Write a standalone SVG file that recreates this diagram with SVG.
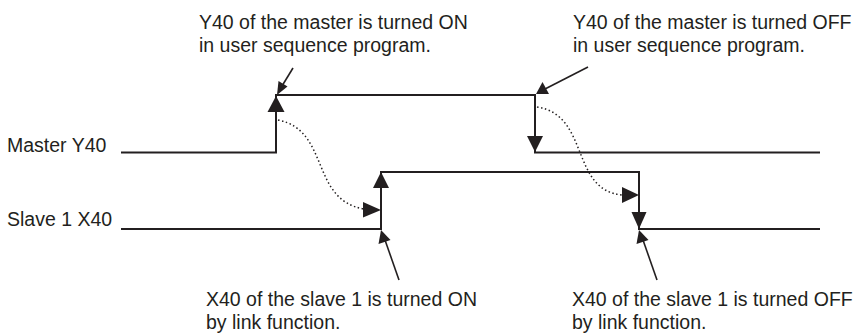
<svg xmlns="http://www.w3.org/2000/svg" width="859" height="334" viewBox="0 0 859 334">
<style>
text{font-family:"Liberation Sans",Arial,sans-serif;font-size:19.5px;fill:#231f20}
.sig{fill:none;stroke:#231f20;stroke-width:2}
.ann{fill:none;stroke:#231f20;stroke-width:1.6}
.dot{fill:none;stroke:#231f20;stroke-width:1.5;stroke-dasharray:1.5 2.5}
.hd{fill:#231f20}
</style>
<rect width="859" height="334" fill="#fff"/>
<g id="label-master"><text x="7" y="152">Master Y40</text></g>
<g id="label-slave"><text x="7" y="226">Slave 1 X40</text></g>
<g id="note-master-on"><text x="199" y="29">Y40 of the master is turned ON</text><text x="199" y="52">in user sequence program.</text></g>
<g id="note-master-off"><text x="573" y="29">Y40 of the master is turned OFF</text><text x="573" y="52">in user sequence program.</text></g>
<g id="note-slave-on"><text x="206" y="306">X40 of the slave 1 is turned ON</text><text x="206" y="329">by link function.</text></g>
<g id="note-slave-off"><text x="572" y="306">X40 of the slave 1 is turned OFF</text><text x="572" y="329">by link function.</text></g>
<g id="signal-master"><polyline class="sig" points="121,152.5 276,152.5 276,95 535,95 535,152.5 820,152.5"/></g>
<g id="signal-slave"><polyline class="sig" points="121,229 381,229 381,172 639,172 639,229 820,229"/></g>
<g id="connectors">
<polygon class="hd" points="276,96 267.5,112 284.5,112"/>
<polygon class="hd" points="535,152 527,136 543,136"/>
<polygon class="hd" points="381,172 373,188 389,188"/>
<polygon class="hd" points="639,229 631.5,212 646.5,212"/>
<path class="dot" d="M278,120 C330,130 310,200 364,209"/>
<polygon class="hd" points="381,210 363,202 363,217.5"/>
<path class="dot" d="M537,107 C590,115 570,190 622,195"/>
<polygon class="hd" points="639,195 622,187 622,203"/>
<line class="ann" x1="293" y1="68" x2="282" y2="86"/>
<polygon class="hd" points="277,95 278.5,81 287.5,86.5"/>
<line class="ann" x1="588" y1="67" x2="545" y2="89"/>
<polygon class="hd" points="536,94 542.5,82 549,94"/>
<line class="ann" x1="399" y1="280" x2="385" y2="240"/>
<polygon class="hd" points="381,230 378.5,244 390.5,240"/>
<line class="ann" x1="657" y1="280" x2="643" y2="240"/>
<polygon class="hd" points="639,230 636.5,244 648.5,240"/>
</g>
</svg>
